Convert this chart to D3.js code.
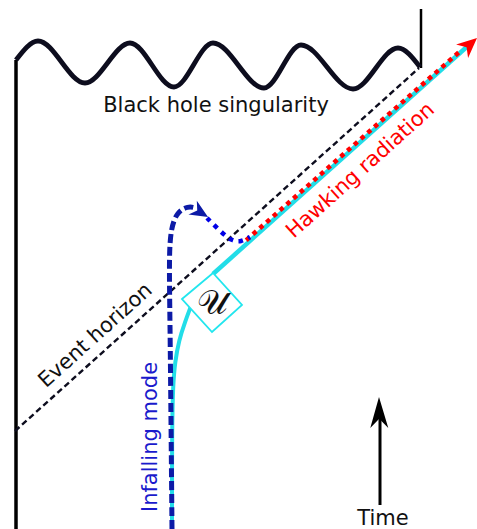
<html>
<head>
  <style>
    body { margin: 0; background: #fff; }
    text { font-family: "DejaVu Sans", sans-serif; font-size: 21px; }
  </style>
</head>
<body>
<svg class="chart"></svg>
<script src="https://cdn.jsdelivr.net/npm/d3@7"></script>
<script>
    // diagram points, in sketch units (0..477 wide, 0..529 tall)
    var singularity = [[16, 60], [38, 41], [85, 83], [130, 43], [174, 87], [213, 43],
                       [264, 88], [301, 45], [353, 89], [398, 48], [420, 67]];
    var leftWall = [[16, 60], [16, 529]];
    var rightWall = [[421, 9], [421, 68]];
    var horizon = [[15, 431], [419, 68]];
    var hawkingOut = [[213, 274], [470, 44]];
    var hawkingDots = [[247, 241], [462, 51]];
    var hawkingTip = [477, 38];
    var modeLow = [[172, 529], [172, 430], [173, 385], [175, 362], [179, 340], [185, 322], [191, 306]];
    var infalling = [[172, 529], [171, 420], [170, 320], [169, 255], [171, 228], [177, 212], [188, 206], [196, 208]];
    var infallTip = [208, 217];
    var reflected = [[207, 218], [222, 233], [232, 241], [241, 242], [250, 237]];
    var box = [[182, 299], [213, 273], [242, 305], [212, 332]];
    var timeArrow = [[380, 505], [380, 415]];
    var timeTip = [379, 397];

    var labels = [
      {text: "Black hole singularity", at: [216, 112], angle: 0, color: "#111", base: "alphabetic"},
      {text: "Event horizon", at: [95, 335], angle: -42, color: "#111", base: "central"},
      {text: "Hawking radiation", at: [360, 170], angle: -42, color: "#ff0000", base: "central"},
      {text: "Infalling mode", at: [150, 437], angle: -90, color: "#1a1acc", base: "central"},
      {text: "Time", at: [383, 525], angle: 0, color: "#111", base: "alphabetic"}
    ];

    var W = 477, H = 529;
    var x = d3.scaleLinear().domain([0, 477]).range([0, W]);
    var y = d3.scaleLinear().domain([0, 529]).range([0, H]);

    var chart = d3.select(".chart")
      .attr("width", W)
      .attr("height", H);

    var line = d3.line().x(function(d) { return x(d[0]); }).y(function(d) { return y(d[1]); });

    function path(pts, curve) {
      return chart.append("path")
        .attr("d", line.curve(curve)(pts))
        .attr("fill", "none");
    }

    // arrow head pointing at tip, coming from point "from"
    function arrowHead(tip, from, len, half, color) {
      var tx = x(tip[0]), ty = y(tip[1]);
      var fx = x(from[0]), fy = y(from[1]);
      var a = Math.atan2(ty - fy, tx - fx);
      var ux = Math.cos(a), uy = Math.sin(a);
      var px = -uy, py = ux;
      var bx = tx - ux * len, by = ty - uy * len;
      var nx = tx - ux * len * 0.7, ny = ty - uy * len * 0.7;
      var pts = [[tx, ty], [bx + px * half, by + py * half], [nx, ny], [bx - px * half, by - py * half]];
      chart.append("path")
        .attr("d", "M" + pts.map(function(p) { return p.join(","); }).join("L") + "Z")
        .attr("fill", color);
    }

    // walls and singularity
    path(leftWall, d3.curveLinear).attr("stroke", "#000").attr("stroke-width", 3.5);
    path(rightWall, d3.curveLinear).attr("stroke", "#000").attr("stroke-width", 2.5);
    path(singularity, d3.curveMonotoneX).attr("stroke", "#0d0d1e").attr("stroke-width", 4.8);

    // event horizon
    path(horizon, d3.curveLinear).attr("stroke", "#0d0d1e").attr("stroke-width", 2.4)
      .attr("stroke-dasharray", "6,3.5");

    // outgoing mode (cyan)
    path(modeLow, d3.curveBasis).attr("stroke", "#22dde8").attr("stroke-width", 4);
    path(hawkingOut, d3.curveLinear).attr("stroke", "#22dde8").attr("stroke-width", 4.5);
    path(hawkingDots, d3.curveLinear).attr("stroke", "#ff0000").attr("stroke-width", 4.5)
      .attr("stroke-dasharray", "4.5,4.5").attr("transform", "translate(-0.8,-0.8)");
    arrowHead(hawkingTip, hawkingOut[0], 20, 9, "#ff0000");

    // infalling mode (dark blue)
    path(infalling, d3.curveBasis).attr("stroke", "#0c1aa6").attr("stroke-width", 5)
      .attr("stroke-dasharray", "9,4");
    arrowHead(infallTip, [190, 206], 18, 8, "#0c1aa6");
    path(reflected, d3.curveBasis).attr("stroke", "#0000e6").attr("stroke-width", 4.5)
      .attr("stroke-dasharray", "4.5,5.5");

    // U box
    chart.append("path")
      .attr("d", line.curve(d3.curveLinearClosed)(box))
      .attr("fill", "#fff").attr("stroke", "#22e6ee").attr("stroke-width", 1.8);
    chart.append("text")
      .attr("x", x(212)).attr("y", y(314))
      .attr("text-anchor", "middle")
      .style("font-family", "'DejaVu Serif', 'Liberation Serif', serif")
      .style("font-size", "34px")
      .attr("fill", "#111")
      .text("\u{1D4B0}");

    // time arrow
    path(timeArrow, d3.curveLinear).attr("stroke", "#000").attr("stroke-width", 3);
    arrowHead(timeTip, timeArrow[0], 31, 9, "#000");

    chart.selectAll(".label")
      .data(labels)
      .enter()
      .append("text")
      .attr("class", "label")
      .attr("transform", function(d) {
        return "translate(" + x(d.at[0]) + "," + y(d.at[1]) + ") rotate(" + d.angle + ")";
      })
      .attr("text-anchor", "middle")
      .attr("dominant-baseline", function(d) { return d.base; })
      .attr("fill", function(d) { return d.color; })
      .text(function(d) { return d.text; });
</script>
</body>
</html>
